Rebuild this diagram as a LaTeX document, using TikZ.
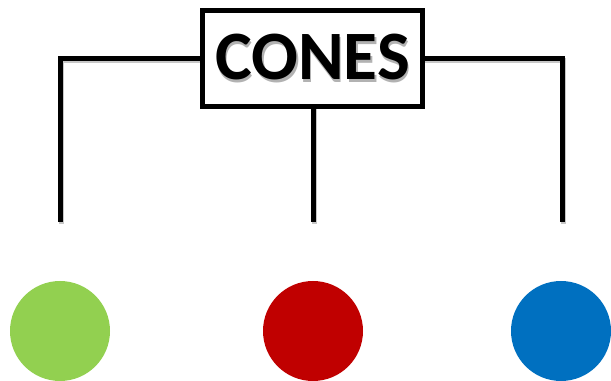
\documentclass[tikz,border=0pt]{standalone}
\usepackage{fontspec}
\setmainfont{Carlito}
\usepackage{xcolor}
\usetikzlibrary{positioning}
\definecolor{cgreen}{HTML}{92D050}
\definecolor{cred}{HTML}{C00000}
\definecolor{cblue}{HTML}{0070C0}

\begin{document}
\begin{tikzpicture}[x=0.75pt, y=-0.75pt,
    titlebox/.style={rectangle, draw=black, line width=3.75pt, fill=white, minimum width=165pt, minimum height=72pt, inner sep=0pt, font=\fontsize{52}{52}\selectfont\bfseries},
    branch/.style={line width=3.75pt, line join=miter, preaction={draw=black!22, line width=3.75pt, transform canvas={shift={(1.2pt,-1.5pt)}}}},
    cone/.style={circle, minimum size=75pt, inner sep=0pt}
]
    \useasboundingbox (0,0) rectangle (611,381);

    % Branch ends
    \coordinate (lend) at (60,222);
    \coordinate (mend) at (313,222);
    \coordinate (rend) at (562,222);

    % Branches
    \draw[branch] (lend) -- (60,59) -- (202.5,59);
    \draw[branch] (rend) -- (562,59) -- (422.5,59);
    \draw[branch] (mend) -- (313,106.5);

    % Title
    \node[titlebox] (cones) at (312.5,58.5) {\makebox[0pt][l]{\hspace{1.3pt}\raisebox{-1.6pt}{\textcolor{black!30}{CONES}}}CONES};

    % Cones
    \node[cone, fill=cgreen] (green) at (60,331) {};
    \node[cone, fill=cred] (red) at (313,331) {};
    \node[cone, fill=cblue] (blue) at (561,331) {};
\end{tikzpicture}
\end{document}
